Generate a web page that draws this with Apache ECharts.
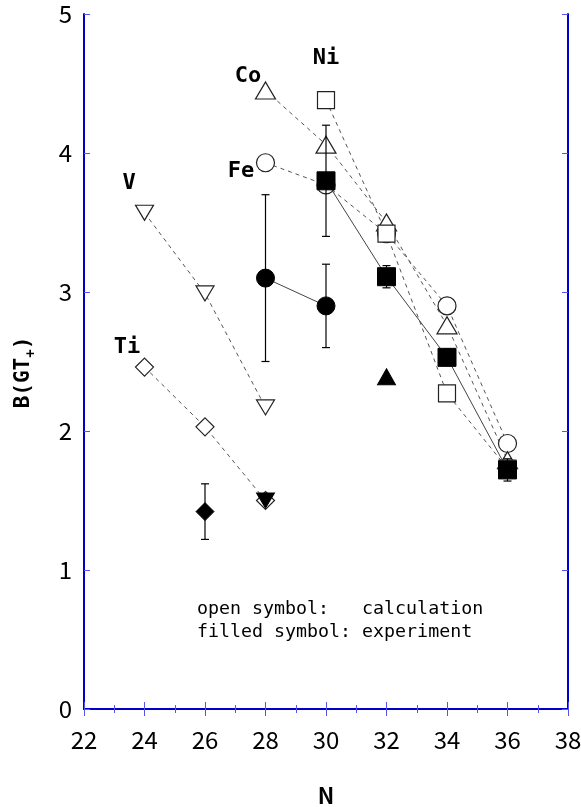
<!DOCTYPE html>
<html>
<head>
<meta charset="utf-8">
<script src="https://cdn.jsdelivr.net/npm/echarts@6/dist/echarts.min.js"></script>
<style>
  html, body { margin: 0; padding: 0; background: #fff; }
  #main { width: 581px; height: 807px; }
</style>
</head>
<body>
<div id="main"></div>
<script>
// calculation (open symbols)
const tiN = [24, 26, 28];
const tiCalc = [2.46, 2.03, 1.50];
const vN = [24, 26, 28];
const vCalc = [3.57, 2.99, 2.17];
const coN = [28, 30, 32, 34, 36];
const coCalc = [4.45, 4.06, 3.50, 2.76, 1.79];
const feN = [28, 30, 32, 34, 36];
const feCalc = [3.93, 3.77, 3.42, 2.90, 1.91];
const niN = [30, 32, 34, 36];
const niCalc = [4.38, 3.42, 2.27, 1.73];

// experiment (filled symbols)
const tiExpN = [26];
const tiExp = [1.42];
const tiExpLo = [1.22];
const tiExpHi = [1.62];
const vExpN = [28];
const vExp = [1.50];
const feExpN = [28, 30];
const feExp = [3.10, 2.90];
const feExpLo = [2.50, 2.60];
const feExpHi = [3.70, 3.20];
const coExpN = [32];
const coExp = [2.39];
const niExpN = [30, 32, 34, 36];
const niExp = [3.80, 3.11, 2.53, 1.72];
const niExpLo = [3.40, 3.03, 2.47, 1.64];
const niExpHi = [4.20, 3.19, 2.59, 1.80];

// element labels
const labelNames = ['Co', 'Ni', 'Fe', 'V', 'Ti'];
const labelX = [27.42, 30.0, 27.19, 23.49, 23.42];
const labelY = [4.55, 4.68, 3.87, 3.78, 2.60];

const xTicks = [22, 24, 26, 28, 30, 32, 34, 36, 38];
const yTicks = [0, 1, 2, 3, 4, 5];

const blue = '#0000cc';
const tickBlue = '#5555ee';
const zip = (a, b) => a.map((v, i) => [v, b[i]]);

function calcSeries(name, xs, ys, symbol, size, rotate) {
    return {
        name: name,
        type: 'line',
        data: zip(xs, ys),
        symbol: symbol,
        symbolSize: size,
        symbolRotate: rotate || 0,
        showAllSymbol: true,
        lineStyle: { color: '#555', width: 1, type: [4, 4] },
        itemStyle: { color: '#fff', borderColor: '#222', borderWidth: 1.2 },
        z: 3,
        animation: false
    };
}

function expSeries(name, xs, ys, symbol, size, rotate) {
    return {
        name: name,
        type: 'line',
        data: zip(xs, ys),
        symbol: symbol,
        symbolSize: size,
        symbolRotate: rotate || 0,
        showAllSymbol: true,
        lineStyle: { color: '#444', width: 1 },
        itemStyle: { color: '#000', borderColor: '#000', borderWidth: 1 },
        z: 5,
        animation: false
    };
}

function errSeries(xs, lo, hi) {
    return {
        type: 'custom',
        data: xs.map((x, i) => [x, lo[i], hi[i]]),
        renderItem: function (params, api) {
            const p1 = api.coord([api.value(0), api.value(1)]);
            const p2 = api.coord([api.value(0), api.value(2)]);
            const cap = 4;
            const st = { stroke: '#000', lineWidth: 1.2 };
            return {
                type: 'group',
                children: [
                    { type: 'line', shape: { x1: p1[0], y1: p1[1], x2: p2[0], y2: p2[1] }, style: st },
                    { type: 'line', shape: { x1: p1[0] - cap, y1: p1[1], x2: p1[0] + cap, y2: p1[1] }, style: st },
                    { type: 'line', shape: { x1: p2[0] - cap, y1: p2[1], x2: p2[0] + cap, y2: p2[1] }, style: st }
                ]
            };
        },
        z: 4,
        animation: false
    };
}

const chart = echarts.init(document.getElementById('main'));
chart.setOption({
    backgroundColor: '#fff',
    animation: false,
    grid: { left: 84, right: 13, top: 14, bottom: 98, containLabel: false, outerBoundsMode: 'none' },
    xAxis: [{
        type: 'value',
        min: 22, max: 38, interval: 2,
        name: 'N',
        nameLocation: 'middle',
        nameGap: 76,
        nameTextStyle: { fontFamily: 'Noto Sans CJK JP', fontWeight: 'bold', fontSize: 22, color: '#000' },
        axisLine: { show: true, lineStyle: { color: blue, width: 2 } },
        axisTick: { inside: true, length: 7, lineStyle: { color: tickBlue } },
        minorTick: { show: true, splitNumber: 2, length: 4, lineStyle: { color: tickBlue } },
        axisLabel: {
            margin: 19, fontSize: 24, color: '#000', fontFamily: 'Noto Sans CJK JP',
            formatter: v => xTicks.includes(v) ? String(v) : ''
        },
        splitLine: { show: false }
    }, {
        type: 'value',
        position: 'top',
        min: 22, max: 38, interval: 2,
        axisLine: { show: true, lineStyle: { color: blue, width: 2 } },
        axisTick: { inside: true, length: 7, lineStyle: { color: tickBlue } },
        minorTick: { show: true, splitNumber: 2, length: 4, lineStyle: { color: tickBlue } },
        axisLabel: { show: false },
        splitLine: { show: false }
    }],
    yAxis: [{
        type: 'value',
        min: 0, max: 5, interval: 1,
        name: '{b|B(GT}{s|+}{b|)}',
        nameLocation: 'middle',
        nameGap: 46,
        nameRotate: 90,
        nameTextStyle: {
            padding: [0, 22, 0, 0],
            rich: {
                b: { fontFamily: 'DejaVu Sans Mono', fontWeight: 'bold', fontSize: 21, color: '#000' },
                s: { fontFamily: 'DejaVu Sans Mono', fontWeight: 'bold', fontSize: 14, color: '#000', padding: [14, 0, 0, 0] }
            }
        },
        axisLine: { show: true, lineStyle: { color: blue, width: 2 } },
        axisTick: { inside: true, length: 6, lineStyle: { color: tickBlue } },
        axisLabel: {
            margin: 12, fontSize: 24, color: '#000', fontFamily: 'Noto Sans CJK JP',
            formatter: v => yTicks.includes(v) ? String(v) : ''
        },
        splitLine: { show: false }
    }, {
        type: 'value',
        position: 'right',
        min: 0, max: 5, interval: 1,
        axisLine: { show: true, lineStyle: { color: blue, width: 2 } },
        axisTick: { inside: true, length: 6, lineStyle: { color: tickBlue } },
        axisLabel: { show: false },
        splitLine: { show: false }
    }],
    series: [
        calcSeries('Ti calc', tiN, tiCalc, 'diamond', [18, 18]),
        calcSeries('V calc', vN, vCalc, 'triangle', [18, 15], 180),
        calcSeries('Fe calc', feN, feCalc, 'circle', 18),
        calcSeries('Co calc', coN, coCalc, 'triangle', [20, 17]),
        calcSeries('Ni calc', niN, niCalc, 'rect', [17, 17]),
        errSeries(tiExpN, tiExpLo, tiExpHi),
        errSeries(feExpN, feExpLo, feExpHi),
        errSeries(niExpN, niExpLo, niExpHi),
        expSeries('Ti exp', tiExpN, tiExp, 'diamond', [18, 18]),
        expSeries('V exp', vExpN, vExp, 'triangle', [18, 15], 180),
        expSeries('Fe exp', feExpN, feExp, 'circle', 18),
        expSeries('Co exp', coExpN, coExp, 'triangle', [18, 16]),
        expSeries('Ni exp', niExpN, niExp, 'rect', [18, 18]),
        {
            type: 'scatter',
            data: labelNames.map((n, i) => [labelX[i], labelY[i], n]),
            symbolSize: 1,
            itemStyle: { opacity: 0 },
            label: {
                show: true,
                position: 'inside',
                formatter: p => p.value[2],
                fontFamily: 'DejaVu Sans Mono',
                fontWeight: 'bold',
                fontSize: 22,
                color: '#000',
                opacity: 1,
                textBorderWidth: 0
            },
            z: 6,
            silent: true
        }
    ],
    graphic: [{
        type: 'text',
        left: 197,
        top: 598,
        style: {
            text: 'open symbol:   calculation\nfilled symbol: experiment',
            font: '18.3px "DejaVu Sans Mono"',
            lineHeight: 23,
            fill: '#000'
        }
    }]
});
</script>
</body>
</html>
